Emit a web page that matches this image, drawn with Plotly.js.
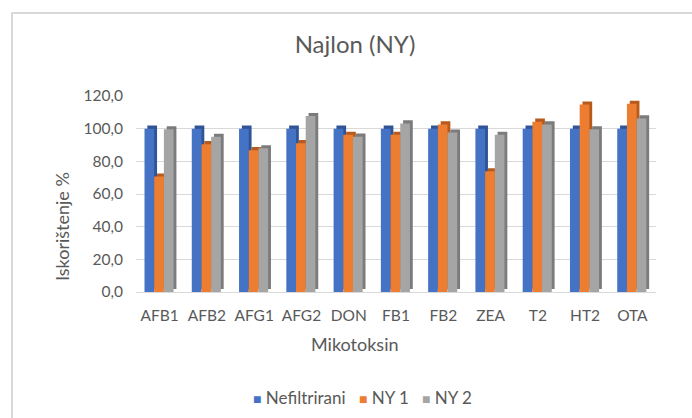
<!DOCTYPE html>
<html>
<head>
<meta charset="utf-8">
<script src="https://cdn.plot.ly/plotly-3.0.1.min.js"></script>
<style>
  html, body { margin: 0; padding: 0; background: #fff; }
  #wrap { position: relative; width: 692px; height: 418px; overflow: hidden; }
  #chart { width: 692px; height: 418px; }
  #frame { position: absolute; left: 11px; top: 12px; width: 700px; height: 420px;
           border-left: 2px solid #d9d9d9; border-top: 2px solid #d9d9d9; pointer-events: none; }
</style>
</head>
<body>
<div id="wrap"><div id="chart"></div><div id="frame"></div></div>
<script>
const categories = ['AFB1','AFB2','AFG1','AFG2','DON','FB1','FB2','ZEA','T2','HT2','OTA'];
const nefiltrirani = [100,100,100,100,100,100,100,100,100,100,100];
const ny1 = [70.7,90.5,86.8,91.1,96.2,96.2,102.6,73.9,104.3,114.8,115.2];
const ny2 = [99.6,95.0,88.0,107.7,95.1,103.2,97.6,96.2,102.6,99.6,106.3];
const seriesNames = ['Nefiltrirani','NY 1','NY 2'];
const yTicks = [0,20,40,60,80,100,120];

const series = [nefiltrirani, ny1, ny2];
const front = ['#4472c4','#ed7d31','#a5a5a5'];
const side = ['#2f5597','#b85a1c','#7b7b7b'];
const offs = [-0.32,-0.115,0.09];
const W = 0.205, DX = 0.06, DY = 1.9;

const traces = [];
series.forEach((vals, i) => {
  traces.push({type:'bar', x:categories, y:vals, base:DY, width:W, offset:offs[i]+DX,
    marker:{color:side[i]}, showlegend:false, hoverinfo:'skip'});
  traces.push({type:'bar', x:categories, y:vals, width:W, offset:offs[i], name:seriesNames[i],
    marker:{color:front[i]}, showlegend:false});
});

const font = "Lato, 'Open Sans', sans-serif";
const txt = '#595959';
const legendX = [251, 357, 420];
const annotations = [
  {text:'Mikotoksin', xref:'paper', yref:'paper', x:(355-136)/520, y:(292-344)/196,
   xanchor:'center', yanchor:'middle', showarrow:false, font:{size:18, color:txt, family:font}},
  {text:'Iskorištenje %', xref:'paper', yref:'paper', x:(62-136)/520, y:(292-227)/196,
   xanchor:'center', yanchor:'middle', textangle:-90, showarrow:false, font:{size:18, color:txt, family:font}}
];
seriesNames.forEach((n, i) => {
  annotations.push({text:'<span style="color:' + front[i] + ';font-size:14px">■</span> ' + n,
    xref:'paper', yref:'paper', x:(legendX[i]-136)/520, y:(292-397)/196,
    xanchor:'left', yanchor:'middle', showarrow:false, font:{size:17, color:txt, family:font}});
});

const layout = {
  width:692, height:418, autosize:false,
  paper_bgcolor:'#fff', plot_bgcolor:'#fff',
  separators:',.',
  barmode:'overlay',
  margin:{l:136, r:36, t:96, b:126},
  font:{family:font, color:txt, size:15},
  title:{text:'Najlon (NY)', font:{size:24, color:txt, family:font},
         x:0.513, xref:'container', xanchor:'center', y:1-45/418, yref:'container', yanchor:'middle'},
  xaxis:{type:'category', range:[-0.5,10.5], showgrid:false, showline:true, linecolor:'#d9d9d9',
         ticks:'', ticklabelstandoff:9, tickfont:{size:15.5, color:txt}, automargin:false},
  yaxis:{range:[0,120], tickvals:yTicks, tickformat:'.1f', showgrid:true, gridcolor:'#d9d9d9',
         zeroline:false, showline:false, ticks:'', ticklabelstandoff:12,
         tickfont:{size:15.5, color:txt}, automargin:false},
  annotations: annotations,
  showlegend:false
};
Plotly.newPlot('chart', traces, layout, {displayModeBar:false, staticPlot:true});
</script>
</body>
</html>
